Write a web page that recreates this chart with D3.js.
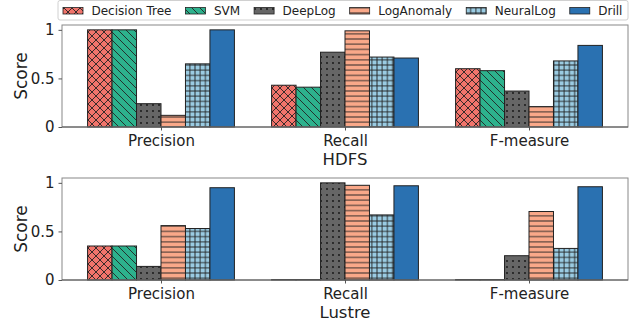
<!DOCTYPE html>
<html>
<head>
<meta charset="utf-8">
<script src="https://cdn.jsdelivr.net/npm/d3@7"></script>
<style>
  body { margin: 0; background: #fff; }
  text { font-family: "DejaVu Sans", sans-serif; fill: #222; }
</style>
</head>
<body>
<div id="chart"></div>
<script>
// dữ liệu
const categories = ["Precision", "Recall", "F-measure"];
const methods = ["Decision Tree", "SVM", "DeepLog", "LogAnomaly", "NeuralLog", "Drill"];
const colors = ["#F1746B", "#2DB28D", "#666666", "#F9A889", "#9ACBE2", "#2A71B1"];
const hatches = ["x", "\\", ".", "-", "+", ""];
const yTicks = [0, 0.5, 1];

// giá trị theo phương pháp: [Precision, Recall, F-measure]
const hdfsValues = [
  [1.0, 0.43, 0.60],
  [1.0, 0.41, 0.58],
  [0.24, 0.77, 0.37],
  [0.12, 0.99, 0.21],
  [0.65, 0.72, 0.68],
  [1.0, 0.71, 0.84]
];
const lustreValues = [
  [0.35, 0.005, 0.005],
  [0.35, 0.005, 0.005],
  [0.14, 1.0, 0.25],
  [0.56, 0.975, 0.705],
  [0.53, 0.67, 0.325],
  [0.95, 0.97, 0.96]
];

const W = 636, H = 327;
const svg = d3.select("#chart").append("svg")
  .attr("width", W).attr("height", H);

// pattern hatch
const defs = svg.append("defs");
function makePattern(i) {
  const id = "hatch" + i, h = hatches[i], c = colors[i];
  if (!h) return c;
  let s = 8;
  if (h === ".") s = 6;
  if (h === "-" || h === "+") s = 5.2;
  const p = defs.append("pattern").attr("id", id)
    .attr("patternUnits", "userSpaceOnUse").attr("width", s).attr("height", s);
  p.append("rect").attr("width", s).attr("height", s).attr("fill", c);
  const st = { stroke: "#222", "stroke-width": 0.9 };
  function line(x1, y1, x2, y2) {
    const l = p.append("line").attr("x1", x1).attr("y1", y1).attr("x2", x2).attr("y2", y2);
    Object.entries(st).forEach(([k, v]) => l.attr(k, v));
  }
  if (h === "x") { line(0, 0, s, s); line(0, s, s, 0); }
  if (h === "\\") { line(0, 0, s, s); line(-s, 0, s / 2 + s / 2 - s, s); line(s, 0, 2 * s, s); }
  if (h === "-") { line(0, s / 2, s, s / 2); }
  if (h === "+") { line(0, s / 2, s, s / 2); line(s / 2, 0, s / 2, s); }
  if (h === ".") { p.append("circle").attr("cx", s / 2).attr("cy", s / 2).attr("r", 0.9).attr("fill", "#111"); }
  return `url(#${id})`;
}
const fills = methods.map((m, i) => makePattern(i));

// thang đo x chung
const x = d3.scaleLinear().domain([-0.538, 2.538]).range([62, 628]);
const barW = 0.133;

const panels = [
  { name: "HDFS", top: 25, bottom: 127, values: hdfsValues },
  { name: "Lustre", top: 178, bottom: 280, values: lustreValues }
];

panels.forEach(pn => {
  const y = d3.scaleLinear().domain([0, 1.05]).range([pn.bottom, pn.top]);
  const g = svg.append("g");

  // cột
  methods.forEach((m, mi) => {
    g.selectAll(null)
      .data(pn.values[mi])
      .enter()
      .append("rect")
      .attr("x", (d, ci) => x(ci + (mi - 3) * barW))
      .attr("y", d => y(d))
      .attr("width", x(barW) - x(0))
      .attr("height", d => y(0) - y(d))
      .attr("fill", fills[mi])
      .attr("stroke", "#222")
      .attr("stroke-width", 1);
  });

  // khung
  g.append("rect")
    .attr("x", x.range()[0]).attr("y", pn.top)
    .attr("width", x.range()[1] - x.range()[0]).attr("height", pn.bottom - pn.top)
    .attr("fill", "none").attr("stroke", "#888").attr("stroke-width", 1);
  g.append("line")
    .attr("x1", x.range()[0]).attr("x2", x.range()[1])
    .attr("y1", pn.bottom).attr("y2", pn.bottom)
    .attr("stroke", "#555");

  // trục Y
  const ya = g.append("g")
    .attr("transform", `translate(${x.range()[0]},0)`)
    .call(d3.axisLeft(y).tickValues(yTicks).tickSize(3.5).tickPadding(4)
      .tickFormat(d => d === 0.5 ? "0.5" : d3.format("d")(d)));
  ya.select(".domain").remove();
  ya.selectAll("line").attr("stroke", "#555");
  ya.selectAll("text").style("font-size", "15px").style("font-family", "DejaVu Sans").attr("fill", "#222");

  // trục X
  const xa = g.append("g")
    .attr("transform", `translate(0,${pn.bottom})`)
    .call(d3.axisBottom(x).tickValues([0, 1, 2]).tickSize(3.5).tickPadding(5)
      .tickFormat(d => categories[d]));
  xa.select(".domain").remove();
  xa.selectAll("line").attr("stroke", "#555");
  xa.selectAll("text").style("font-size", "15px").style("font-family", "DejaVu Sans").attr("fill", "#222");

  // nhãn
  svg.append("text")
    .attr("transform", `translate(27,${(pn.top + pn.bottom) / 2}) rotate(-90)`)
    .attr("text-anchor", "middle")
    .style("font-size", "17px")
    .text("Score");
  svg.append("text")
    .attr("x", x(1)).attr("y", pn.bottom + 38)
    .attr("text-anchor", "middle")
    .style("font-size", "16.5px")
    .text(pn.name);
});

// chú giải
const legend = svg.append("g");
legend.append("rect")
  .attr("x", 58).attr("y", 0.5).attr("width", 570).attr("height", 19.5)
  .attr("rx", 2).attr("fill", "#fff").attr("stroke", "#d0d0d0");
let lx = 63;
methods.forEach((m, i) => {
  legend.append("rect")
    .attr("x", lx).attr("y", 7.5).attr("width", 20).attr("height", 6.5)
    .attr("fill", fills[i]).attr("stroke", "#222").attr("stroke-width", 0.8);
  const t = legend.append("text")
    .attr("x", lx + 28.5).attr("y", 14.5)
    .style("font-size", "12px")
    .text(m);
  lx += 28.5 + t.node().getComputedTextLength() + 14;
});
</script>
</body>
</html>
